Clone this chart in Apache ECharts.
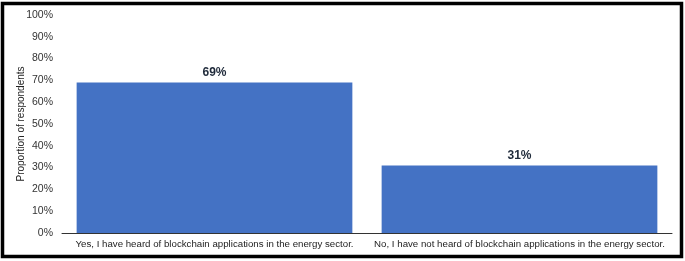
<!DOCTYPE html>
<html>
<head>
<meta charset="utf-8">
<script src="https://cdn.jsdelivr.net/npm/echarts@6/dist/echarts.min.js"></script>
<style>
html,body{margin:0;padding:0;background:#fff;}
#chart{width:685px;height:261px;}
</style>
</head>
<body>
<div id="chart"></div>
<script>
const categories = [
  "Yes, I have heard of blockchain applications in the energy sector.",
  "No, I have not heard of blockchain applications in the energy sector."
];
const values = [69, 31];
const yAxisName = "Proportion of respondents";

const chart = echarts.init(document.getElementById('chart'), null, {renderer: 'canvas'});
chart.setOption({
  animation: false,
  backgroundColor: '#ffffff',
  graphic: [{
    type: 'rect',
    shape: {x: 2.5, y: 3.5, width: 679, height: 253},
    style: {fill: 'none', stroke: '#000', lineWidth: 3.5},
    z: 100
  }],
  grid: {left: 62, right: 13, top: 15, bottom: 28, containLabel: false},
  xAxis: {
    type: 'category',
    data: categories,
    axisLine: {show: true, lineStyle: {color: '#333', width: 1}},
    axisTick: {show: false},
    axisLabel: {
      interval: 0,
      color: '#222',
      fontFamily: 'Liberation Sans, Arial, sans-serif',
      fontSize: 9.7,
      margin: 6
    }
  },
  yAxis: {
    type: 'value',
    min: 0,
    max: 100,
    interval: 10,
    name: yAxisName,
    nameLocation: 'middle',
    nameGap: 36,
    nameRotate: 90,
    nameMoveOverlap: false,
    nameTextStyle: {
      color: '#222',
      fontFamily: 'Liberation Sans, Arial, sans-serif',
      fontSize: 10
    },
    axisLine: {show: false},
    axisTick: {show: false},
    splitLine: {show: false},
    axisLabel: {
      formatter: '{value}%',
      color: '#333',
      fontFamily: 'Liberation Sans, Arial, sans-serif',
      fontSize: 10.5,
      margin: 9
    }
  },
  series: [{
    type: 'bar',
    data: values,
    barCategoryGap: '9.6%',
    itemStyle: {color: '#4472C4'},
    label: {
      show: true,
      position: 'top',
      formatter: '{c}%',
      color: '#1f2a3a',
      fontWeight: 'bold',
      fontFamily: 'Liberation Sans, Arial, sans-serif',
      fontSize: 12,
      distance: 4
    }
  }]
});
</script>
</body>
</html>
